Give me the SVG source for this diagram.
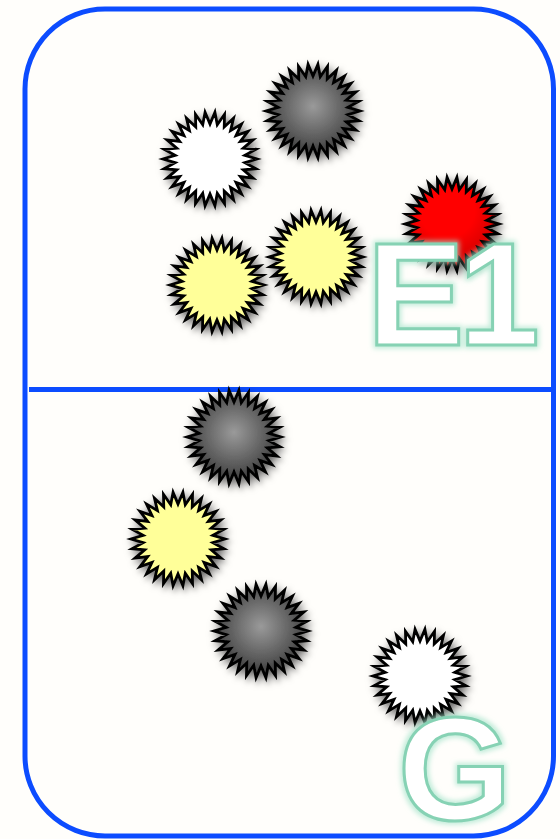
<svg xmlns="http://www.w3.org/2000/svg" xmlns:xlink="http://www.w3.org/1999/xlink" width="560" height="839" viewBox="0 0 560 839">
<style>
.frame{fill:none;stroke:#0c4cff;stroke-width:5}
.star{stroke:#000;stroke-width:2.8;stroke-linejoin:miter;filter:url(#shadow)}
.dark{fill:url(#gDark)}
.white{fill:#ffffff}
.yellow{fill:#ffff99}
.red{fill:url(#gRed)}
.big{font-family:"Liberation Sans",Arial,sans-serif;font-weight:bold;font-size:146px;fill:#ffffff;stroke:#86d2b4;stroke-width:3;filter:url(#glow)}
</style>
<defs>
<filter id="shadow" x="-30%" y="-30%" width="160%" height="160%">
<feDropShadow dx="2" dy="3" stdDeviation="3" flood-color="#000" flood-opacity="0.6"/>
</filter>
<filter id="glow" x="-20%" y="-20%" width="140%" height="140%">
<feMorphology in="SourceAlpha" operator="dilate" radius="2" result="d"/>
<feGaussianBlur in="d" stdDeviation="2.5" result="b"/>
<feFlood flood-color="#a6e4cb" flood-opacity="0.7"/>
<feComposite in2="b" operator="in" result="g"/>
<feMerge><feMergeNode in="g"/><feMergeNode in="SourceGraphic"/></feMerge>
</filter>
<radialGradient id="gDark" cx="0.5" cy="0.45" r="0.6">
<stop offset="0" stop-color="#9a9a9a"/>
<stop offset="1" stop-color="#2e2e2e"/>
</radialGradient>
<radialGradient id="gRed" cx="0.45" cy="0.35" r="0.65">
<stop offset="0.45" stop-color="#ff0000"/>
<stop offset="1" stop-color="#c60000"/>
</radialGradient>
<polygon id="star" points="47,0 34.81,3.66 45.97,9.77 33.29,10.82 42.94,19.12 30.31,17.5 38.02,27.63 26.01,23.42 31.45,34.93 20.57,28.32 23.5,40.7 14.24,31.97 14.52,44.7 7.28,34.24 4.91,46.74 0,35 -4.91,46.74 -7.28,34.24 -14.52,44.7 -14.24,31.97 -23.5,40.7 -20.57,28.32 -31.45,34.93 -26.01,23.42 -38.02,27.63 -30.31,17.5 -42.94,19.12 -33.29,10.82 -45.97,9.77 -34.81,3.66 -47,0 -34.81,-3.66 -45.97,-9.77 -33.29,-10.82 -42.94,-19.12 -30.31,-17.5 -38.02,-27.63 -26.01,-23.42 -31.45,-34.93 -20.57,-28.32 -23.5,-40.7 -14.24,-31.97 -14.52,-44.7 -7.28,-34.24 -4.91,-46.74 0,-35 4.91,-46.74 7.28,-34.24 14.52,-44.7 14.24,-31.97 23.5,-40.7 20.57,-28.32 31.45,-34.93 26.01,-23.42 38.02,-27.63 30.31,-17.5 42.94,-19.12 33.29,-10.82 45.97,-9.77 34.81,-3.66"/>
</defs>
<rect x="0" y="0" width="560" height="839" fill="#fffefb"/>
<g id="frame">
<rect class="frame" x="25" y="9" width="528.5" height="827" rx="80" ry="80"/>
<line class="frame" x1="29" y1="389.5" x2="553" y2="389.5" stroke-width="5.5"/>
</g>
<g id="connectors"/>
<g id="star-dark-1"><use href="#star" class="star dark" x="313" y="111"/></g>
<g id="star-white-1"><use href="#star" class="star white" x="210" y="159"/></g>
<g id="star-yellow-1"><use href="#star" class="star yellow" x="217" y="285"/></g>
<g id="star-yellow-2"><use href="#star" class="star yellow" x="316" y="257"/></g>
<g id="star-red"><use href="#star" class="star red" x="452" y="224"/></g>
<g id="star-dark-2"><use href="#star" class="star dark" x="234" y="437"/></g>
<g id="star-yellow-3"><use href="#star" class="star yellow" x="178" y="539"/></g>
<g id="star-dark-3"><use href="#star" class="star dark" x="261" y="631"/></g>
<g id="star-white-2"><use href="#star" class="star white" x="420" y="676"/></g>
<g id="label-E1"><text class="big" x="367" y="345">E<tspan dx="-6">1</tspan></text></g>
<g id="label-G"><text class="big" x="398" y="820">G</text></g>
</svg>
